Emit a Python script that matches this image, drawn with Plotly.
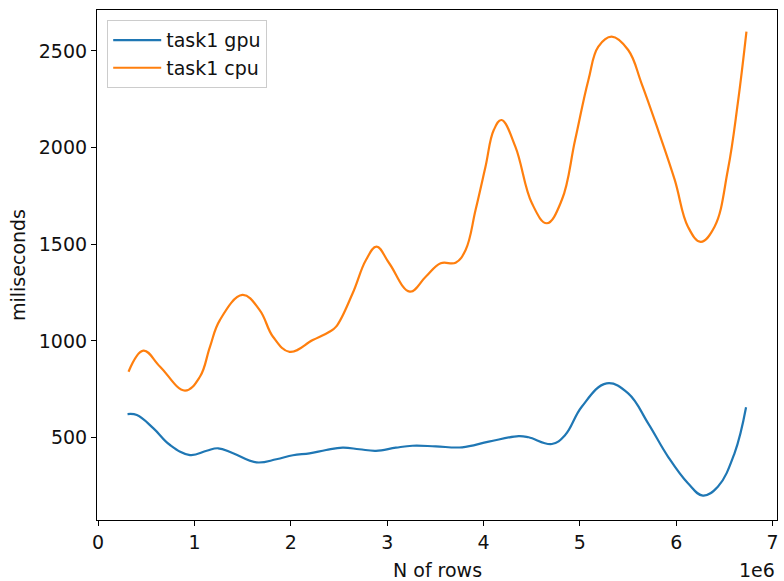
import plotly.graph_objects as go

# Data (x in millions of rows, y in milliseconds)
gpu_x = [0.306, 0.403, 0.575, 0.747, 0.954, 1.127, 1.246, 1.401, 1.643, 1.850,
         2.022, 2.194, 2.367, 2.538, 2.711, 2.884, 3.090, 3.262, 3.504, 3.778,
         4.054, 4.364, 4.468, 4.709, 4.847, 5.019, 5.277, 5.501, 5.708, 5.915,
         6.121, 6.276, 6.431, 6.604, 6.724]
gpu_y = [622, 617, 548, 462, 410, 432, 445, 419, 372, 388,
         409, 419, 436, 448, 440, 432, 448, 458, 455, 450,
         479, 508, 502, 467, 514, 660, 781, 729, 574, 401,
         264, 200, 246, 419, 657]

cpu_x = [0.316, 0.471, 0.644, 0.902, 1.057, 1.161, 1.264, 1.499, 1.677, 1.815,
         1.987, 2.228, 2.401, 2.470, 2.642, 2.780, 2.890, 3.021, 3.235, 3.400,
         3.555, 3.710, 3.814, 3.917, 4.020, 4.106, 4.186, 4.330, 4.502, 4.657,
         4.812, 4.950, 5.088, 5.191, 5.329, 5.501, 5.639, 5.811, 5.984, 6.121,
         6.253, 6.397, 6.535, 6.638, 6.728]
cpu_y = [841, 950, 867, 743, 815, 970, 1108, 1238, 1160, 1022,
         944, 1005, 1048, 1074, 1247, 1419, 1488, 1402, 1255, 1332,
         1402, 1405, 1471, 1677, 1901, 2091, 2143, 2005, 1712, 1609,
         1729, 2039, 2350, 2522, 2574, 2505, 2333, 2091, 1833, 1591,
         1513, 1591, 1884, 2229, 2600]

x_ticks = [0, 1, 2, 3, 4, 5, 6, 7]
x_tick_labels = ["0", "1", "2", "3", "4", "5", "6", "7"]
y_ticks = [500, 1000, 1500, 2000, 2500]

SCALE = 1e6
FONT = "DejaVu Sans"
FS = 19

fig = go.Figure()
fig.add_trace(go.Scatter(
    x=[v * SCALE for v in gpu_x], y=gpu_y, mode="lines", name="task1 gpu",
    legendgroup="g1",
    line=dict(color="#1f77b4", width=2.2, shape="spline", smoothing=1.15)))
fig.add_trace(go.Scatter(
    x=[v * SCALE for v in cpu_x], y=cpu_y, mode="lines", name="task1 cpu",
    legendgroup="g2",
    line=dict(color="#ff7f0e", width=2.2, shape="spline", smoothing=1.15)))

axis_common = dict(showgrid=False, zeroline=False, showline=True, mirror=True,
                   linecolor="black", linewidth=1.1, ticks="outside", ticklen=5,
                   tickcolor="black", tickwidth=1.1,
                   tickfont=dict(family=FONT, size=FS, color="#111111"))

fig.update_xaxes(range=[-0.011 * SCALE, 7.045 * SCALE],
                 tickvals=[v * SCALE for v in x_ticks], ticktext=x_tick_labels,
                 **axis_common)
fig.update_yaxes(range=[74, 2712], tickvals=y_ticks, **axis_common)

fig.update_layout(
    width=784, height=581,
    margin=dict(l=97, r=5, t=10, b=61),
    paper_bgcolor="white", plot_bgcolor="white",
    font=dict(family=FONT, size=FS, color="#111111"),
    showlegend=True,
    legend=dict(x=0.015, y=0.98, xanchor="left", yanchor="top",
                bgcolor="rgba(255,255,255,0.8)", bordercolor="#cccccc",
                borderwidth=1, font=dict(family=FONT, size=FS, color="#111111"),
                itemwidth=48, tracegroupgap=0),
    annotations=[
        dict(text="N of rows", xref="paper", yref="paper", x=0.5, y=0,
             xanchor="center", yanchor="middle", yshift=-50, showarrow=False,
             font=dict(family=FONT, size=FS, color="#111111")),
        dict(text="miliseconds", xref="paper", yref="paper", x=0, y=0.5,
             xanchor="center", yanchor="middle", xshift=-79, textangle=-90,
             showarrow=False, font=dict(family=FONT, size=FS, color="#111111")),
        dict(text="1e6", xref="paper", yref="paper", x=1, y=0,
             xanchor="right", yanchor="middle", yshift=-50, showarrow=False,
             font=dict(family=FONT, size=FS, color="#111111")),
    ],
)

fig.write_html("out.html",
               config={"displayModeBar": False},
               post_script="document.body.style.margin='0';"
                           "document.body.style.overflow='hidden';")
